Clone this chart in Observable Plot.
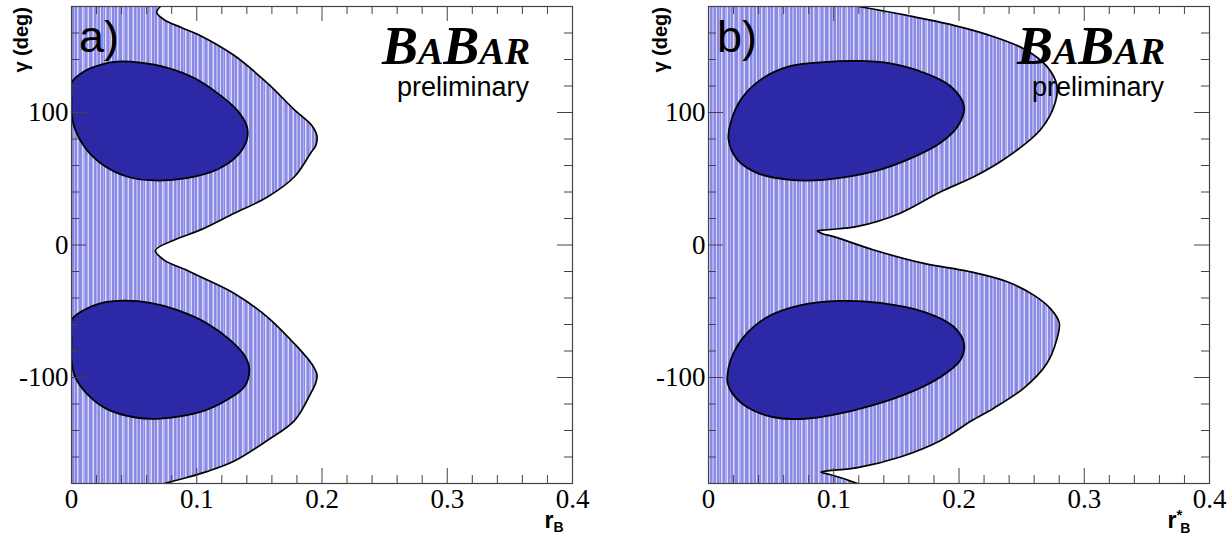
<!DOCTYPE html>
<html>
<head>
<meta charset="utf-8">
<script src="https://cdn.jsdelivr.net/npm/d3@7"></script>
<script src="https://cdn.jsdelivr.net/npm/@observablehq/plot@0.6"></script>
<style>
  html, body { margin: 0; padding: 0; background: white; }
  #wrap { display: flex; flex-direction: row; width: 1232px; height: 540px; }
</style>
</head>
<body>
<div id="wrap"></div>
<script>
// ---------- data: [r, gamma(deg)] ----------
const outerA = [
  [0.071, 180], [0.068, 175.6], [0.074, 170], [0.088, 164], [0.103, 158], [0.130, 143],
  [0.156, 122.5], [0.178, 102], [0.192, 90], [0.196, 82], [0.195, 75], [0.191, 69.5],
  [0.178, 51.5], [0.156, 36], [0.130, 24], [0.103, 11.4], [0.082, 3.8], [0.067, -4],
  [0.074, -11.4], [0.092, -19], [0.103, -24], [0.130, -36.6], [0.156, -54], [0.178, -74.5],
  [0.192, -90], [0.196, -98], [0.195, -104], [0.191, -112], [0.178, -132.6], [0.156, -147.7],
  [0.130, -163], [0.108, -171], [0.092, -175.5], [0.074, -180]
];
const innerA1 = [
  [0.000, 122.5], [0.010, 131], [0.023, 136], [0.036, 138.4], [0.055, 137.6], [0.076, 133.9],
  [0.098, 126], [0.116, 115], [0.132, 102], [0.140, 89.6], [0.140, 79.5], [0.132, 67],
  [0.116, 56.8], [0.092, 50.5], [0.066, 48.7], [0.044, 51.7], [0.023, 61.9], [0.010, 74.5],
  [0.002, 89.6], [0.000, 99.8], [0.000, 111]
];
const innerA2 = [
  [0.000, -56.8], [0.010, -49], [0.023, -44], [0.042, -42], [0.063, -43.7], [0.084, -49],
  [0.108, -59], [0.127, -72], [0.139, -84.6], [0.142, -94.7], [0.138, -107], [0.124, -117],
  [0.103, -126], [0.071, -131], [0.050, -130], [0.028, -123.7], [0.012, -112], [0.003, -99.8],
  [0.000, -87], [0.000, -72]
];
const outerB = [
  [0.120, 180], [0.160, 173], [0.195, 166], [0.222, 159], [0.252, 148],
  [0.270, 135], [0.278, 121], [0.277, 108], [0.265, 87], [0.238, 66], [0.213, 52],
  [0.185, 40], [0.153, 24], [0.119, 14], [0.095, 11.5], [0.087, 10.5], [0.091, 8.5],
  [0.100, 6.3], [0.132, -3.8], [0.172, -13.9], [0.208, -20], [0.238, -27.6], [0.260, -38],
  [0.273, -48], [0.280, -58.6], [0.278, -71.5], [0.270, -89.6], [0.252, -107.8], [0.228, -123],
  [0.210, -132.6], [0.185, -147.7], [0.153, -160], [0.119, -168], [0.095, -170.5],
  [0.090, -171.5], [0.096, -173], [0.105, -175.5], [0.119, -180]
];
const innerB1 = [
  [0.016, 79.5], [0.0176, 92], [0.026, 110], [0.042, 125], [0.065, 135], [0.092, 138],
  [0.119, 138.9], [0.145, 137], [0.172, 130], [0.193, 120], [0.204, 104.8], [0.199, 89.6],
  [0.185, 77], [0.159, 64.4], [0.132, 55.5], [0.092, 49.2], [0.065, 49.2], [0.039, 54.3],
  [0.023, 64.4]
];
const innerB2 = [
  [0.015, -99.8], [0.0176, -87], [0.028, -69.5], [0.047, -54.3], [0.073, -45.5], [0.105, -42.2],
  [0.137, -43.7], [0.172, -50.5], [0.196, -61.9], [0.204, -74.5], [0.201, -87], [0.185, -99.8],
  [0.159, -112], [0.119, -124], [0.079, -131], [0.052, -130], [0.031, -122.5], [0.019, -112],
  [0.0155, -105]
];

// ---------- axes ----------
const X_MAJOR = [0, 0.1, 0.2, 0.3, 0.4];
const X_MINOR = [0.02, 0.04, 0.06, 0.08, 0.12, 0.14, 0.16, 0.18, 0.22, 0.24, 0.26, 0.28, 0.32, 0.34, 0.36, 0.38];
const Y_MAJOR = [-100, 0, 100];
const Y_MINOR = [-160, -140, -120, -80, -60, -40, -20, 20, 40, 60, 80, 120, 140, 160];
const X_DOMAIN = [0, 0.4];
const Y_DOMAIN = [-180, 180];

const DARK = "#2c28a6";
const AXIS = "#444";
const SERIF = "'Liberation Serif', 'DejaVu Serif', serif";
const SANS = "'Liberation Sans', Arial, sans-serif";
const TICK_FONT = 27;

function patternDef(id) {
  // irregular vertical hatching: [x, width, colour]
  const M = "#8a8ae5", L = "#adadef", W = "#dcdcf8";
  const stripes = [
    [2, 1, W], [3, 2, L], [7, 1, L], [8, 1, W], [12, 1, L], [13, 1, W], [16, 2, L],
    [20, 1, W], [23, 1, L], [25, 1, W], [26, 1, L], [29, 2, L], [31, 1, W], [34, 1, L],
    [37, 1, W], [38, 1, L]
  ];
  return `<pattern id="${id}" patternUnits="userSpaceOnUse" width="40" height="8">
    <rect width="40" height="8" fill="${M}"/>
    ${stripes.map(([x, w, c]) => `<rect x="${x}" width="${w}" height="8" fill="${c}"/>`).join("")}
  </pattern>`;
}

function panel({outer, inners, marginLeft, marginRight, pid}) {
  const W = 616, H = 540, mt = 6, mb = 57;
  const ph = H - mt - mb, pw = W - marginLeft - marginRight;
  const X = d => d[0], Y = d => d[1];
  const svg = Plot.plot({
    width: W, height: H, marginLeft, marginRight, marginTop: mt, marginBottom: mb,
    x: {domain: X_DOMAIN},
    y: {domain: Y_DOMAIN},
    style: {background: "white", overflow: "visible"},
    marks: [
      Plot.areaX(outer, {y: Y, x1: 0, x2: X, fill: `url(#${pid})`, curve: "catmull-rom", clip: true}),
      Plot.line(outer, {x: X, y: Y, stroke: "black", strokeWidth: 1.7, curve: "catmull-rom", clip: true}),
      ...inners.map(poly => Plot.line(poly, {x: X, y: Y, fill: DARK, stroke: "black", strokeWidth: 1.8, curve: "catmull-rom-closed", clip: true})),
      // inside ticks: bottom / top
      Plot.tickX(X_MAJOR, {x: d => d, stroke: AXIS, insetTop: ph - 15}),
      Plot.tickX(X_MINOR, {x: d => d, stroke: AXIS, insetTop: ph - 8}),
      Plot.tickX(X_MAJOR, {x: d => d, stroke: AXIS, insetBottom: ph - 15}),
      Plot.tickX(X_MINOR, {x: d => d, stroke: AXIS, insetBottom: ph - 8}),
      // inside ticks: left / right
      Plot.tickY(Y_MAJOR, {y: d => d, stroke: AXIS, insetRight: pw - 15}),
      Plot.tickY(Y_MINOR, {y: d => d, stroke: AXIS, insetRight: pw - 8}),
      Plot.tickY(Y_MAJOR, {y: d => d, stroke: AXIS, insetLeft: pw - 15}),
      Plot.tickY(Y_MINOR, {y: d => d, stroke: AXIS, insetLeft: pw - 8}),
      Plot.frame({stroke: AXIS, strokeWidth: 1.2}),
      Plot.axisX(X_MAJOR, {anchor: "bottom", tickSize: 0, tickPadding: 5, tickFormat: d => String(d),
        fontSize: TICK_FONT, fontFamily: SERIF, fill: "black", label: null}),
      Plot.axisY(Y_MAJOR, {anchor: "left", tickSize: 0, tickPadding: 3, tickFormat: d => String(d),
        fontSize: TICK_FONT, fontFamily: SERIF, fill: "black", label: null})
    ]
  });
  const s = d3.select(svg);
  s.insert("defs", ":first-child").html(patternDef(pid));
  s.selectAll('g[aria-label="x-axis tick label"], g[aria-label="y-axis tick label"]')
    .attr("font-size", TICK_FONT).attr("font-family", SERIF)
    .style("font-size", TICK_FONT + "px").style("font-family", SERIF);
  return svg;
}

function addLabels(svg, o) {
  const s = d3.select(svg);
  // panel tag
  s.append("text").attr("x", o.tagX).attr("y", 52)
    .attr("font-family", SANS).attr("font-size", 45).attr("fill", "black").text(o.tag);
  // BaBar logo
  const logo = s.append("text").attr("x", o.logoX).attr("y", 64).attr("text-anchor", "end")
    .attr("font-family", SERIF).attr("font-style", "italic").attr("font-weight", "bold").attr("fill", "black");
  [["B", 54], ["A", 38], ["B", 54], ["AR", 38]].forEach(([t, fs]) =>
    logo.append("tspan").attr("font-size", fs).text(t));
  s.append("text").attr("x", o.logoX - 1).attr("y", 96).attr("text-anchor", "end")
    .attr("font-family", SANS).attr("font-size", 27).attr("fill", "black").text("preliminary");
  // y title
  s.append("text").attr("transform", `translate(${o.yTitleX},7) rotate(-90)`).attr("text-anchor", "end")
    .attr("font-family", SANS).attr("font-weight", "bold").attr("font-size", 20).attr("fill", "black")
    .text("γ (deg)");
  // x title
  const xt = s.append("text").attr("x", o.xTitleX).attr("y", 528)
    .attr("font-family", SANS).attr("font-weight", "bold").attr("font-size", 23).attr("fill", "black");
  xt.append("tspan").text("r");
  if (o.star) {
    xt.append("tspan").attr("font-size", 15).attr("dy", -8).text("*");
    xt.append("tspan").attr("font-size", 14).attr("dy", 13).attr("dx", -2).text("B");
  } else {
    xt.append("tspan").attr("font-size", 14).attr("dy", 4).text("B");
  }
}

const wrap = document.getElementById("wrap");
const svgA = panel({outer: outerA, inners: [innerA1, innerA2], marginLeft: 71, marginRight: 44, pid: "hatchA"});
const svgB = panel({outer: outerB, inners: [innerB1, innerB2], marginLeft: 92, marginRight: 23, pid: "hatchB"});
wrap.appendChild(svgA);
wrap.appendChild(svgB);
addLabels(svgA, {tag: "a)", tagX: 99, logoX: 530, yTitleX: 28, xTitleX: 554, star: false});
addLabels(svgB, {tag: "b)", tagX: 121, logoX: 549, yTitleX: 51, xTitleX: 563, star: true});
</script>
</body>
</html>
